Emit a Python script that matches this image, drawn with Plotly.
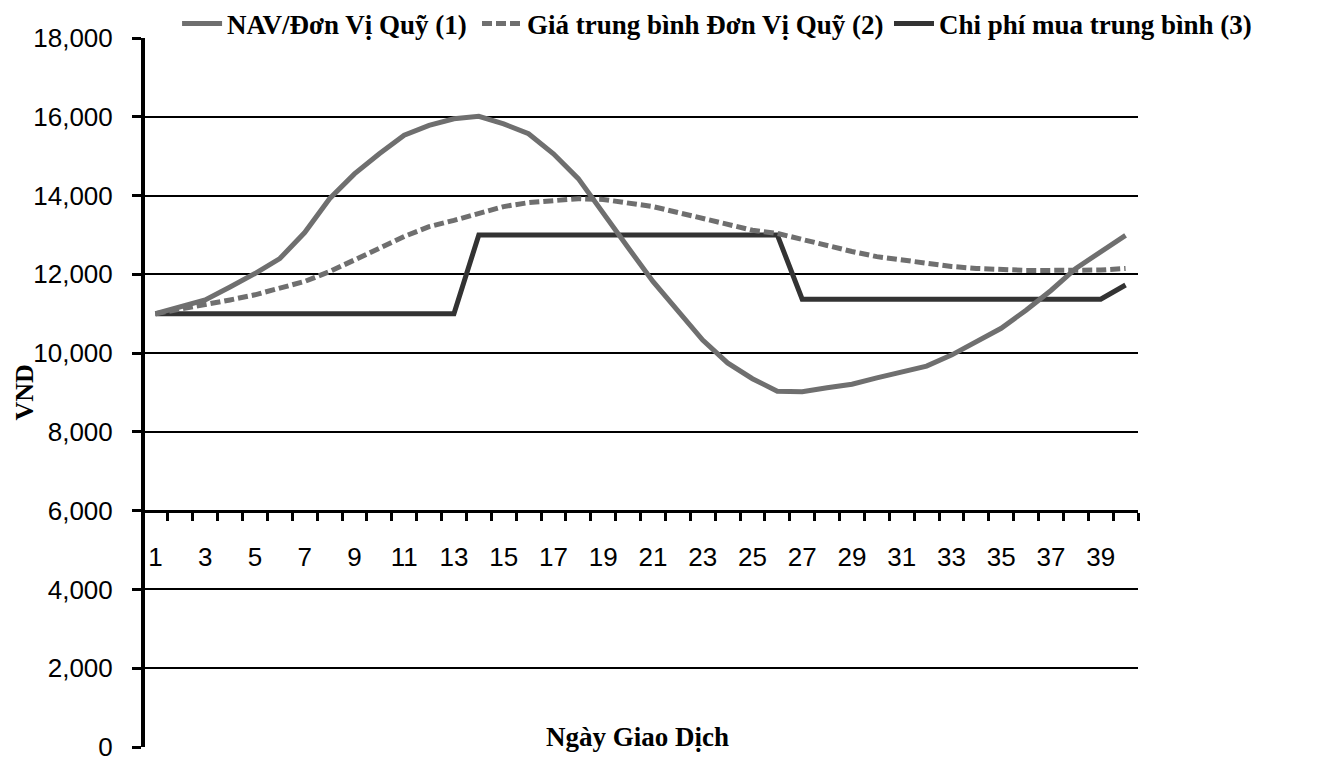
import plotly.graph_objects as go

days = list(range(1, 41))
nav = [11000, 11180, 11350, 11680, 12020, 12400, 13060, 13920, 14550, 15060,
       15530, 15780, 15950, 16010, 15820, 15570, 15060, 14430, 13540, 12680,
       11820, 11060, 10330, 9750, 9350, 9030, 9020, 9120, 9210, 9370,
       9520, 9670, 9950, 10300, 10630, 11090, 11590, 12150, 12580, 12990]
avg_price = [11000, 11110, 11220, 11350, 11480, 11650, 11820, 12070, 12350, 12660,
             12960, 13210, 13370, 13550, 13720, 13820, 13880, 13920, 13900, 13820,
             13720, 13570, 13420, 13270, 13120, 13040, 12880, 12720, 12580, 12450,
             12360, 12280, 12200, 12150, 12120, 12100, 12100, 12100, 12110, 12150]
avg_cost = [11000, 11000, 11000, 11000, 11000, 11000, 11000, 11000, 11000, 11000,
            11000, 11000, 11000, 13000, 13000, 13000, 13000, 13000, 13000, 13000,
            13000, 13000, 13000, 13000, 13000, 13000, 11370, 11370, 11370, 11370,
            11370, 11370, 11370, 11370, 11370, 11370, 11370, 11370, 11370, 11730]
names = ["NAV/Đơn Vị Quỹ (1)", "Giá trung bình Đơn Vị Quỹ (2)", "Chi phí mua trung bình (3)"]
y_ticks = [0, 2000, 4000, 6000, 8000, 10000, 12000, 14000, 16000, 18000]
grid_vals = [2000, 4000, 6000, 8000, 10000, 12000, 14000, 16000]
x_labels = [1, 3, 5, 7, 9, 11, 13, 15, 17, 19, 21, 23, 25, 27, 29, 31, 33, 35, 37, 39]

GRAY = "#6f6f6f"
DARK = "#333333"
SERIF = "Liberation Serif"
SANS = "Liberation Sans"

fig = go.Figure()
fig.add_trace(go.Scatter(x=days, y=avg_cost, mode="lines", name=names[2],
                         line=dict(color=DARK, width=5), legend="legend3"))
fig.add_trace(go.Scatter(x=days, y=avg_price, mode="lines", name=names[1],
                         line=dict(color=GRAY, width=5, dash="10px,4px"), legend="legend2"))
fig.add_trace(go.Scatter(x=days, y=nav, mode="lines", name=names[0],
                         line=dict(color=GRAY, width=5), legend="legend", yaxis="y2"))

W, H = 1326, 754
L, R, T, B = 135, 196, 30, 15

legend_font = dict(family=SERIF, size=27, color="black", weight="bold")
def leg(x):
    return dict(x=x, y=0.9788, xref="container", yref="container",
                xanchor="left", yanchor="middle", orientation="h",
                font=legend_font, bgcolor="rgba(0,0,0,0)", itemwidth=40)

fig.update_layout(
    width=W, height=H,
    margin=dict(l=L, r=R, t=T, b=B, autoexpand=False),
    paper_bgcolor="white", plot_bgcolor="white",
    showlegend=True,
    legend=leg(0.1275),
    legend2=leg(0.3537),
    legend3=leg(0.6644),
    xaxis=dict(
        range=[0.5, 40.5], anchor="free", position=1/3, automargin=False,
        showgrid=False, zeroline=False,
        showline=True, linecolor="black", linewidth=3,
        tickmode="array", tickvals=x_labels, ticktext=[str(v) for v in x_labels],
        ticks="", ticklabelstandoff=22,
        tickfont=dict(family=SANS, size=26, color="black"),
        minor=dict(ticks="outside", tick0=0.5, dtick=1, ticklen=8, tickwidth=3,
                   tickcolor="black", showgrid=False),
    ),
    yaxis=dict(
        range=[0, 18000], anchor="free", position=0, automargin=False,
        showgrid=False, zeroline=False,
        showline=True, linecolor="black", linewidth=4,
        tickmode="array", tickvals=y_ticks, tickformat=",d",
        ticks="outside", ticklen=9, tickwidth=3, tickcolor="black",
        ticklabelstandoff=14, ticklabeloverflow="allow",
        tickfont=dict(family=SANS, size=26, color="black"),
    ),
    yaxis2=dict(
        range=[0, 18000], overlaying="y", anchor="free", position=0, automargin=False,
        showgrid=True, gridcolor="black", gridwidth=1.5,
        tickmode="array", tickvals=grid_vals,
        showticklabels=False, ticks="", showline=False, zeroline=False,
    ),
    annotations=[
        dict(text="VND", xref="paper", yref="paper", x=-0.1186, y=0.5,
             textangle=-90, showarrow=False, xanchor="center", yanchor="middle",
             font=dict(family=SERIF, size=26, color="black", weight="bold")),
        dict(text="Ngày Giao Dịch", xref="paper", yref="paper", x=0.4965, y=0.0141,
             showarrow=False, xanchor="center", yanchor="middle",
             font=dict(family=SERIF, size=27, color="black", weight="bold")),
    ],
)

fig.write_html("out.html")
